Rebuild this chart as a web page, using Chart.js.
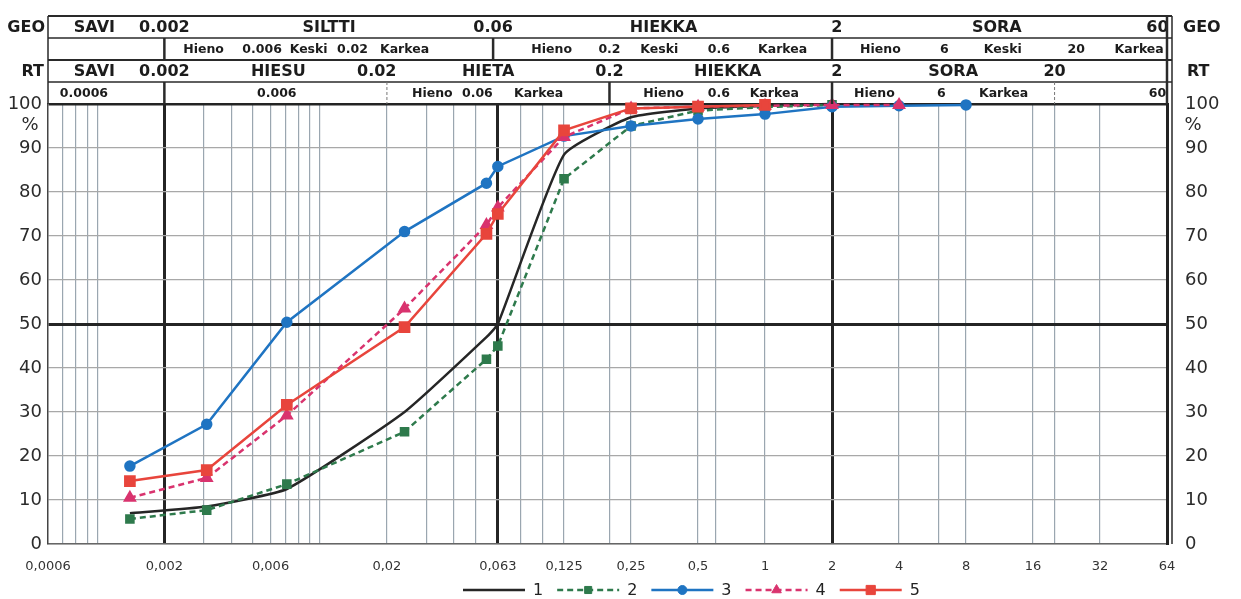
<!DOCTYPE html>
<html>
<head>
<meta charset="utf-8">
<title>Rakeisuuskäyrät</title>
<script src="https://cdn.jsdelivr.net/npm/chart.js@4.4.1/dist/chart.umd.min.js"></script>
<style>
  html, body { margin: 0; padding: 0; background: #fff; }
  #wrap { width: 1241px; height: 599px; position: relative; }
</style>
</head>
<body>
<div id="wrap"><canvas id="rakeisuus"></canvas></div>
<script>
// raekoot (mm), joissa läpäisy on mitattu (areometri + seulat)
var raekoko = [0.0014, 0.0031, 0.0071, 0.024, 0.056, 0.063, 0.125, 0.25, 0.5, 1, 2, 4, 8];

// läpäisy-% näytteittäin
var nayte1 = [7, 8.5, 12.5, 30, 47, 50, 88.5, 97, 99, 99.6, 100];
var nayte2 = [5.7, 7.7, 13.6, 25.5, 42, 45, 83, 95, 98.5, 99.3, 99.8];
var nayte3 = [17.7, 27.2, 50.4, 71, 82, 85.8, 92.7, 95, 96.6, 97.7, 99.4, 99.6, 99.8];
var nayte4 = [10.5, 15, 29.2, 53.5, 72.5, 76.5, 92.5, 99, 99.4, 99.6, 99.8, 99.8];
var nayte5 = [14.3, 16.8, 31.6, 49.3, 70.5, 75, 94, 99, 99.4, 99.8];
var sarjaNimet = ['1', '2', '3', '4', '5'];

// x-akselin numerot
var xTickArvot = [0.0006, 0.002, 0.006, 0.02, 0.063, 0.125, 0.25, 0.5, 1, 2, 4, 8, 16, 32, 64];
var xTickTekstit = ['0,0006', '0,002', '0,006', '0,02', '0,063', '0,125', '0,25', '0,5', '1', '2', '4', '8', '16', '32', '64'];
// ohuet pystyviivat ja paksut rajaviivat
var xApuviivat = [0.0007, 0.0008, 0.0009, 0.001, 0.003, 0.004, 0.005, 0.007, 0.008, 0.009, 0.01,
                  0.03, 0.04, 0.05, 0.08, 0.1, 0.2, 0.6, 6, 20];
var xRajat = [0.002, 0.063, 2];
var yTickArvot = [0, 10, 20, 30, 40, 50, 60, 70, 80, 90, 100];

// luokitustaulukot: [teksti, raekoko jonka kohdalle teksti tulee]
var geoRivi1 = [['SAVI', 0.00097], ['0.002', 0.002], ['SILTTI', 0.011], ['0.06', 0.06], ['HIEKKA', 0.35], ['2', 2.1], ['SORA', 11], ['60', 58]];
var geoRivi2 = [['Hieno', 0.003], ['0.006', 0.0055], ['Keski', 0.0089], ['0.02', 0.014], ['Karkea', 0.024],
                ['Hieno', 0.11], ['0.2', 0.2], ['Keski', 0.335], ['0.6', 0.62], ['Karkea', 1.2],
                ['Hieno', 3.3], ['6', 6.4], ['Keski', 11.7], ['20', 25], ['Karkea', 48]];
var rtRivi1 = [['SAVI', 0.00097], ['0.002', 0.002], ['HIESU', 0.0065], ['0.02', 0.018], ['HIETA', 0.057], ['0.2', 0.2], ['HIEKKA', 0.68], ['2', 2.1], ['SORA', 7], ['20', 20]];
var rtRivi2 = [['0.0006', 0.00087], ['0.006', 0.0064], ['Hieno', 0.032], ['0.06', 0.051], ['Karkea', 0.096],
               ['Hieno', 0.35], ['0.6', 0.62], ['Karkea', 1.1], ['Hieno', 3.1], ['6', 6.2], ['Karkea', 11.8], ['60', 58]];
var geoJaot = [0.002, 0.06, 2];
var rtJaot = [0.002, 0.2, 2];
var rtKatkoJaot = [0.02, 20];

var varit = ['#262626', '#2e7a4c', '#1f74c2', '#d9336e', '#e8453c'];

function pisteet(arvot) {
    return arvot.map(function(v, i) { return { x: raekoko[i], y: v }; });
}

var kaikkiViivat = xTickArvot.concat(xApuviivat).filter(function(v, i, a) {
    return a.indexOf(v) === i;
}).sort(function(a, b) { return a - b; });

// luokitustaulukot kuvan yläpuolelle
var taulukot = {
    id: 'taulukot',
    afterDraw: function(chart) {
        var ctx = chart.ctx, xs = chart.scales.x, ys = chart.scales.y, a = chart.chartArea;
        var h = 22, top = a.top - 4 * h;
        var L = a.left, R = a.right;
        ctx.save();
        ctx.fillStyle = '#1c1c1c';
        ctx.textBaseline = 'middle';
        ctx.textAlign = 'center';

        function rivi(lista, r, font) {
            ctx.font = font;
            lista.forEach(function(p) {
                ctx.fillText(p[0], xs.getPixelForValue(p[1]), top + r * h + h / 2 + 1);
            });
        }
        rivi(geoRivi1, 0, "bold 16px 'DejaVu Sans'");
        rivi(geoRivi2, 1, "bold 12.5px 'DejaVu Sans'");
        rivi(rtRivi1, 2, "bold 16px 'DejaVu Sans'");
        rivi(rtRivi2, 3, "bold 12.5px 'DejaVu Sans'");

        ctx.font = "bold 16px 'DejaVu Sans'";
        ctx.textAlign = 'right';
        ctx.fillText('GEO', 45, top + h / 2 + 1);
        ctx.fillText('RT', 44, top + 2 * h + h / 2 + 1);
        ctx.textAlign = 'left';
        ctx.fillText('GEO', R + 16, top + h / 2 + 1);
        ctx.fillText('RT', R + 20, top + 2 * h + h / 2 + 1);

        // prosenttimerkit
        ctx.font = "18px 'DejaVu Sans'";
        ctx.fillStyle = '#2b2b2b';
        ctx.textAlign = 'center';
        ctx.fillText('%', 30, ys.getPixelForValue(95.2));
        ctx.fillText('%', R + 26, ys.getPixelForValue(95.2));

        // kehykset
        ctx.strokeStyle = '#2a2a2a';
        for (var r = 0; r < 4; r++) {
            ctx.lineWidth = (r % 2 === 0) ? 2 : 1.4;
            ctx.beginPath();
            ctx.moveTo(L, top + r * h);
            ctx.lineTo(R + 5, top + r * h);
            ctx.stroke();
        }
        ctx.lineWidth = 1.5;
        ctx.beginPath();
        ctx.moveTo(L, top); ctx.lineTo(L, a.top);
        ctx.moveTo(R + 5, top); ctx.lineTo(R + 5, a.bottom);
        ctx.stroke();
        ctx.lineWidth = 2.5;
        ctx.beginPath();
        ctx.moveTo(R, top); ctx.lineTo(R, a.top);
        ctx.stroke();

        function jaot(lista, r) {
            lista.forEach(function(v) {
                var x = xs.getPixelForValue(v);
                ctx.beginPath();
                ctx.moveTo(x, top + r * h);
                ctx.lineTo(x, top + (r + 1) * h);
                ctx.stroke();
            });
        }
        ctx.lineWidth = 2.5;
        jaot(geoJaot, 1);
        jaot(rtJaot, 3);
        ctx.lineWidth = 1;
        ctx.strokeStyle = '#777';
        ctx.setLineDash([3, 2]);
        jaot(rtKatkoJaot, 3);
        ctx.restore();
    }
};

// selite alareunaan
var selite = {
    id: 'selite',
    afterDraw: function(chart) {
        var ctx = chart.ctx;
        var x = 463, y = 590, viiva = 62;
        var tyylit = [false, 'rect', 'circle', 'triangle', 'rect'];
        var koot = [0, 5, 4.5, 5.5, 6.5];
        var katko = [null, [6, 4], null, [6, 4], null];
        ctx.save();
        ctx.font = "16px 'DejaVu Sans'";
        ctx.textBaseline = 'middle';
        ctx.textAlign = 'left';
        sarjaNimet.forEach(function(nimi, i) {
            ctx.strokeStyle = varit[i];
            ctx.fillStyle = varit[i];
            ctx.lineWidth = 2.5;
            ctx.setLineDash(katko[i] || []);
            ctx.beginPath();
            ctx.moveTo(x, y);
            ctx.lineTo(x + viiva, y);
            ctx.stroke();
            ctx.setLineDash([]);
            if (tyylit[i]) {
                ctx.lineWidth = 1;
                Chart.helpers.drawPoint(ctx, { pointStyle: tyylit[i], rotation: 0, radius: koot[i], borderWidth: 1 }, x + viiva / 2, y);
            }
            ctx.fillStyle = '#222';
            ctx.fillText(nimi, x + viiva + 8, y + 1);
            x += viiva + 8 + ctx.measureText(nimi).width + 14;
        });
        ctx.restore();
    }
};

Chart.defaults.font.family = "'DejaVu Sans', sans-serif";
Chart.defaults.color = '#2b2b2b';

new Chart('rakeisuus', {
    type: 'line',
    data: {
        datasets: [
            { label: sarjaNimet[0], data: pisteet(nayte1), borderColor: varit[0], borderWidth: 2.5,
              pointRadius: 0, tension: 0.15, order: 5 },
            { label: sarjaNimet[1], data: pisteet(nayte2), borderColor: varit[1], backgroundColor: varit[1],
              borderWidth: 2.5, borderDash: [6, 4], pointStyle: 'rect', pointRadius: 5, order: 4 },
            { label: sarjaNimet[2], data: pisteet(nayte3), borderColor: varit[2], backgroundColor: varit[2],
              borderWidth: 2.5, pointStyle: 'circle', pointRadius: 4.5, order: 3 },
            { label: sarjaNimet[3], data: pisteet(nayte4), borderColor: varit[3], backgroundColor: varit[3],
              borderWidth: 2.5, borderDash: [6, 4], pointStyle: 'triangle', pointRadius: 5.5, order: 2 },
            { label: sarjaNimet[4], data: pisteet(nayte5), borderColor: varit[4], backgroundColor: varit[4],
              borderWidth: 2.5, pointStyle: 'rect', pointRadius: 6.5, order: 1 }
        ]
    },
    options: {
        responsive: true,
        maintainAspectRatio: false,
        devicePixelRatio: 1,
        animation: false,
        clip: false,
        layout: { padding: { top: 104, left: 0, right: 0, bottom: 0 } },
        elements: { point: { borderWidth: 1 }, line: { tension: 0 } },
        plugins: {
            legend: { display: false },
            tooltip: { enabled: false }
        },
        scales: {
            x: {
                type: 'logarithmic',
                min: 0.0006,
                max: 64,
                afterBuildTicks: function(s) {
                    s.ticks = kaikkiViivat.map(function(v) { return { value: v }; });
                },
                afterFit: function(s) { s.height = 55; },
                ticks: {
                    autoSkip: false,
                    maxRotation: 0,
                    padding: 15,
                    color: '#333',
                    font: { size: 13 },
                    callback: function(v) {
                        var i = xTickArvot.indexOf(v);
                        return i >= 0 ? xTickTekstit[i] : '';
                    }
                },
                grid: {
                    drawTicks: false,
                    color: function(c) {
                        var v = c.tick ? c.tick.value : null;
                        if (xRajat.indexOf(v) >= 0) return '#242424';
                        if (v === 0.0006 || v === 64) return 'rgba(0,0,0,0)';
                        return '#9aa6b0';
                    },
                    lineWidth: function(c) {
                        var v = c.tick ? c.tick.value : null;
                        return xRajat.indexOf(v) >= 0 ? 3 : 1.2;
                    }
                },
                border: { display: true, color: '#666', width: 1.5 }
            },
            y: {
                min: 0,
                max: 100,
                afterBuildTicks: function(s) {
                    s.ticks = yTickArvot.map(function(v) { return { value: v }; });
                },
                afterFit: function(s) { s.width = 48; },
                ticks: { padding: 6, color: '#2b2b2b', font: { size: 18 } },
                grid: {
                    drawTicks: false,
                    color: function(c) {
                        var v = c.tick ? c.tick.value : null;
                        if (v === 50 || v === 100) return '#242424';
                        return '#a8a8a8';
                    },
                    lineWidth: function(c) {
                        var v = c.tick ? c.tick.value : null;
                        if (v === 50) return 3;
                        if (v === 100) return 2.5;
                        return 1.2;
                    }
                },
                border: { display: true, color: '#444', width: 1.5 }
            },
            y2: {
                position: 'right',
                min: 0,
                max: 100,
                afterBuildTicks: function(s) {
                    s.ticks = yTickArvot.map(function(v) { return { value: v }; });
                },
                afterFit: function(s) { s.width = 74; },
                ticks: { padding: 18, color: '#2b2b2b', font: { size: 18 } },
                grid: { display: false, drawTicks: false },
                border: { display: true, color: '#222', width: 3 }
            }
        }
    },
    plugins: [taulukot, selite]
});
</script>
</body>
</html>
